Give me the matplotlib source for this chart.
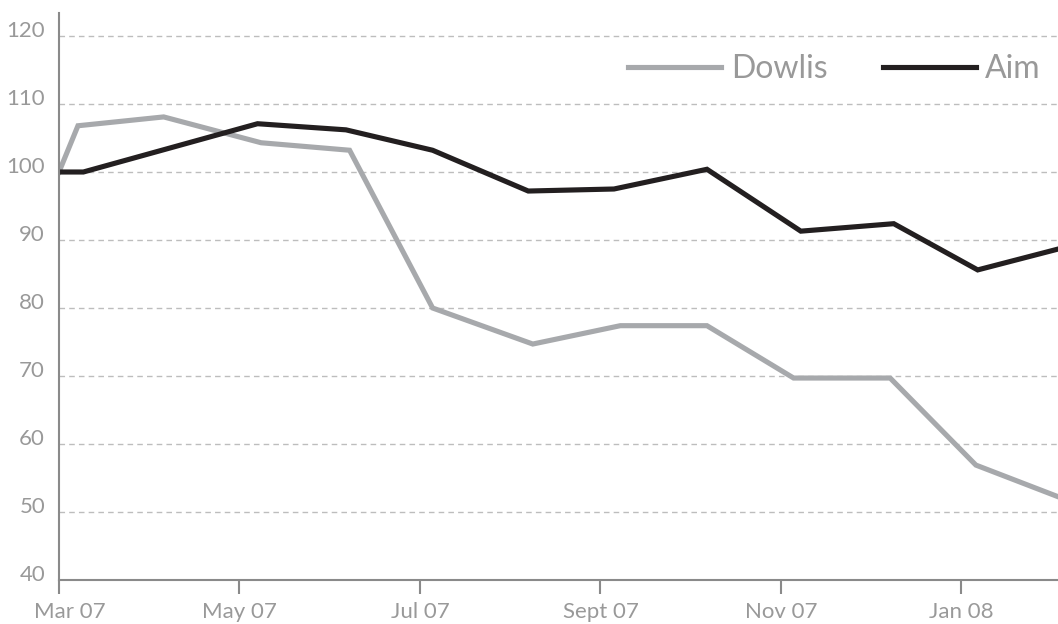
import matplotlib
matplotlib.use("Agg")
import matplotlib.pyplot as plt
import matplotlib.transforms as mtransforms

plt.rcParams['font.family'] = ['Lato', 'DejaVu Sans']

# month offsets from Mar 07
dowlis_x = [0.0, 0.21, 1.16, 2.24, 3.22, 4.14, 5.25, 6.22, 7.18, 8.14, 9.21, 10.16, 11.08]
dowlis_y = [100.0, 106.8, 108.1, 104.3, 103.2, 80.0, 74.7, 77.4, 77.4, 69.7, 69.7, 56.9, 52.2]

aim_x = [0.0, 0.27, 2.2, 3.18, 4.14, 5.2, 6.15, 7.18, 8.22, 9.25, 10.18, 11.08]
aim_y = [100.0, 100.0, 107.1, 106.2, 103.2, 97.2, 97.5, 100.4, 91.3, 92.4, 85.6, 88.7]

xtick_pos = [0, 2, 4, 6, 8, 10]
xtick_labels = ['Mar 07', 'May 07', 'Jul 07', 'Sept 07', 'Nov 07', 'Jan 08']
ytick_vals = [40, 50, 60, 70, 80, 90, 100, 110, 120]

gray_line = '#a7a9ac'
dark_line = '#231f20'
text_gray = '#999999'
axis_gray = '#8a8a8a'

fig = plt.figure(figsize=(10.58, 6.24), dpi=100)
ax = fig.add_axes([59/1058, 44/624, 1 - 59/1058, (580-13)/624])

ax.plot(dowlis_x, dowlis_y, color=gray_line, lw=3.7, label='Dowlis', solid_joinstyle='miter')
ax.plot(aim_x, aim_y, color=dark_line, lw=3.7, label='Aim', solid_joinstyle='miter')

ax.set_xlim(0, 11.07)
ax.set_ylim(40, 40 + (580-13)/6.8)

for v in ytick_vals[1:]:
    ax.axhline(v, color='#bdbdbd', lw=1.0, ls=(0, (4, 3)), zorder=0)

for s in ['top', 'right']:
    ax.spines[s].set_visible(False)
for s in ['left', 'bottom']:
    ax.spines[s].set_color(axis_gray)
    ax.spines[s].set_linewidth(1.5)

ax.set_xticks(xtick_pos)
ax.set_xticklabels(xtick_labels)
ax.set_yticks(ytick_vals)
ax.set_yticklabels([str(v) for v in ytick_vals])
ax.tick_params(axis='x', direction='out', length=10, width=1.5, color=axis_gray,
               labelsize=16, labelcolor=text_gray, pad=6)
ax.tick_params(axis='y', length=0, labelsize=16, labelcolor=text_gray, pad=10)

for lab in ax.get_yticklabels():
    lab.set_transform(lab.get_transform() + mtransforms.ScaledTranslation(0, 7/100, fig.dpi_scale_trans))
first = ax.get_xticklabels()[0]
first.set_transform(first.get_transform() + mtransforms.ScaledTranslation(11/100, 0, fig.dpi_scale_trans))

leg = ax.legend(loc='center right', bbox_to_anchor=(1.0 - 17/999, (115.1-40)/(83.4)),
                ncol=2, frameon=False, handlelength=2.9, handletextpad=0.3,
                columnspacing=1.75, borderpad=0, borderaxespad=0,
                prop={'size': 23})
for t in leg.get_texts():
    t.set_color(text_gray)

fig.savefig('out.png', dpi=100)
